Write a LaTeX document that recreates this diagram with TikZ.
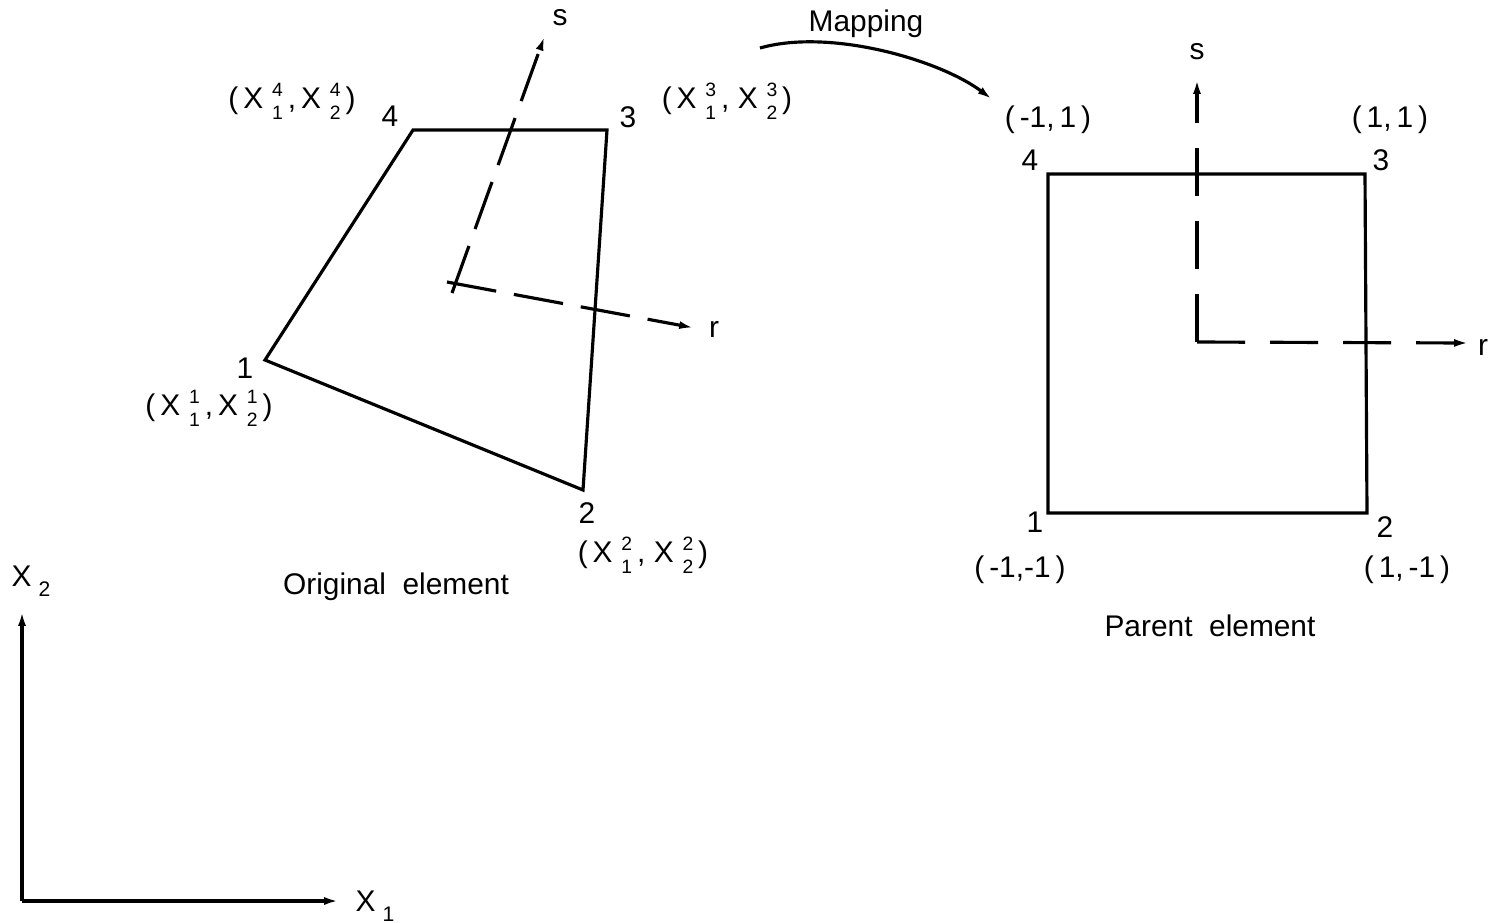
\documentclass[tikz,border=0pt]{standalone}
\usepackage{fontspec}
\setmainfont{Liberation Sans}
\usetikzlibrary{arrows.meta,positioning}
\newcommand{\Xc}[2]{X\hspace{2.5pt}\raisebox{-2.9pt}{\fontsize{5.5}{6.5}\selectfont\begin{tabular}[b]{@{}c@{}}#1\\#2\end{tabular}}}
\newcommand{\Xs}[1]{X\raisebox{-3pt}{\fontsize{6}{6.3}\selectfont\hspace{2pt}#1}}

\begin{document}
\begin{tikzpicture}[x=0.1mm, y=-0.1mm, line width=0.9pt,
  every node/.style={font=\fontsize{8.5}{10}\selectfont, inner sep=1pt},
  axisline/.style={-{Latex[length=4.5pt,width=2.2pt]}},
  dashaxis/.style={axisline, dash pattern=on 5mm off 1.8mm},
  dashaxisp/.style={axisline, dash pattern=on 4.8mm off 2.5mm}]
  \useasboundingbox (0,0) rectangle (1488,922);

  \coordinate (q1) at (265,360);
  \coordinate (q2) at (583,490);
  \coordinate (q3) at (607,130);
  \coordinate (q4) at (413,130);
  \draw (q1) -- (q2) -- (q3) -- (q4) -- cycle;

  \coordinate (qo) at (447,282);
  \coordinate (qsb) at (452,293);
  \coordinate (qs) at (545,35);
  \coordinate (qr) at (695,328);
  \draw[dashaxis] (qsb) -- (qs);
  \draw[dashaxis] (qo) -- (qr);
  \node (qslab) at (560,18) {s};
  \node (qrlab) at (714,329) {r};

  \node (ql4) at (390,116) {4};
  \node (qc4) at (292,103) {(\,\Xc{4}{1}\,,\,\Xc{4}{2}\,)};
  \node (ql3) at (628,117) {3};
  \node (qc3) at (727,103) {(\,\Xc{3}{1}\,,\ \Xc{3}{2}\,)};
  \node (ql1) at (245,368) {1};
  \node (qc1) at (209,410) {(\,\Xc{1}{1}\,,\,\Xc{1}{2}\,)};
  \node (ql2) at (587,513) {2};
  \node (qc2) at (643,557) {(\,\Xc{2}{1}\,,\ \Xc{2}{2}\,)};
  \node (qname) at (396,587) {Original\ \ element};

  \coordinate (ms) at (760,48);
  \coordinate (me) at (993,100);
  \draw[axisline] (ms) .. controls (830,28) and (940,60) .. (me);
  \node (mlab) at (866,24) {Mapping};

  \coordinate (p1) at (1048,513);
  \coordinate (p2) at (1367,513);
  \coordinate (p3) at (1365,174);
  \coordinate (p4) at (1048,174);
  \draw (p1) -- (p2) -- (p3) -- (p4) -- cycle;

  \coordinate (po) at (1197,342);
  \coordinate (ps) at (1197,78);
  \coordinate (pr) at (1470,343);
  \draw[dashaxisp] (po) -- (ps);
  \draw[dashaxisp] (po) -- (pr);
  \node (pslab) at (1197,52) {s};
  \node (prlab) at (1483,347) {r};

  \node (pc4) at (1048,120) {(\,-1,\,1\,)};
  \node (pl4) at (1030,160) {4};
  \node (pc3) at (1390,120) {(\,1,\,1\,)};
  \node (pl3) at (1381,160) {3};
  \node (pl1) at (1035,522) {1};
  \node (pc1) at (1020,570) {(\,-1,-1\,)};
  \node (pl2) at (1385,527) {2};
  \node (pc2) at (1407,570) {(\,1,\,-1\,)};
  \node (pname) at (1210,626) {Parent\ \ element};

  \coordinate (g0) at (22,901);
  \coordinate (gx) at (340,901);
  \coordinate (gy) at (22,610);
  \draw[axisline] (g0) -- (gx);
  \draw[axisline] (g0) -- (gy);
  \node (gxlab) at (375,906) {\Xs{1}};
  \node (gylab) at (31,581) {\Xs{2}};
\end{tikzpicture}
\end{document}
